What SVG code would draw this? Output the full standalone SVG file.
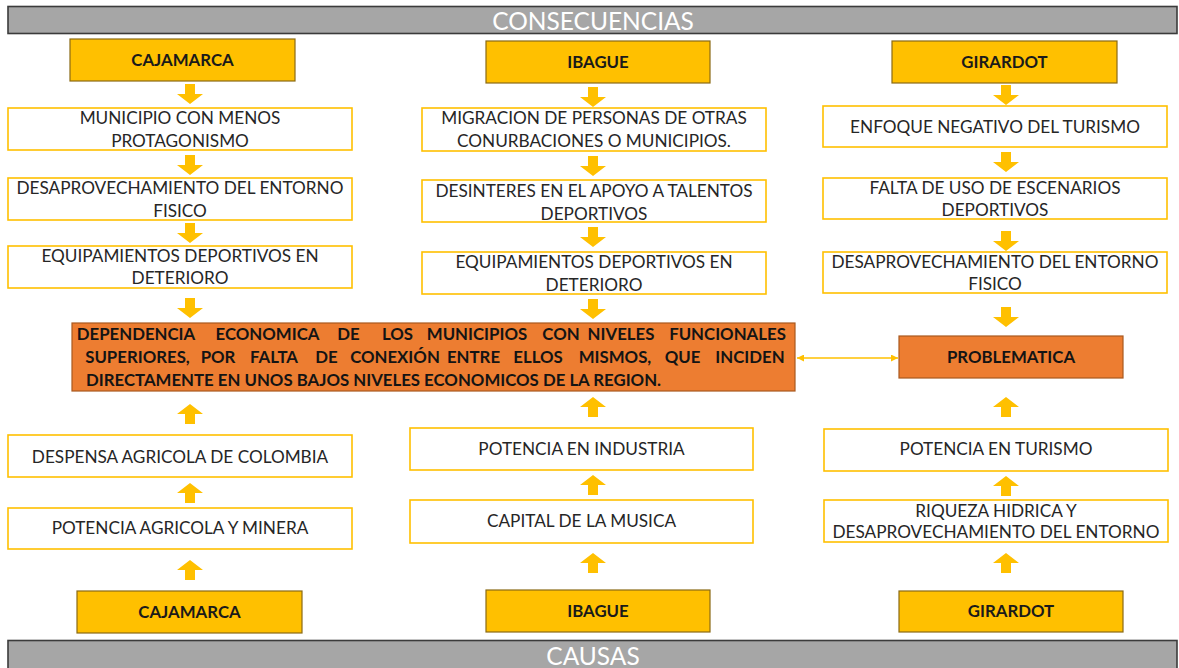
<svg xmlns="http://www.w3.org/2000/svg" xmlns:xlink="http://www.w3.org/1999/xlink" width="1179" height="668" viewBox="0 0 1179 668">
<style>
.bar{fill:#a6a6a6;stroke:#3b3b3b;stroke-width:1.6}
.bartxt{font-family:Lato,"Liberation Sans",sans-serif;font-size:24.5px;fill:#ffffff;text-anchor:middle}
.city{fill:#ffc000;stroke:#8a6a14;stroke-width:1.2}
.citytxt{font-family:Lato,"Liberation Sans",sans-serif;font-weight:bold;font-size:16.8px;fill:#1a1a1a;text-anchor:middle}
.box{fill:#ffffff;stroke:#ffc000;stroke-width:1.6}
.txt{font-family:Lato,"Liberation Sans",sans-serif;font-size:17.2px;fill:#262626;text-anchor:middle}
.orange{fill:#ed7d31;stroke:#a9591f;stroke-width:1.2}
.otxt{font-family:Lato,"Liberation Sans",sans-serif;font-weight:bold;font-size:16.8px;fill:#141414;text-anchor:middle}
.arr{fill:#ffc000}
.link{stroke:#ffc000;stroke-width:1.3;fill:none}
</style>
<defs>
<path id="down" d="M-5,0 H5 V10 H13 L0,20 L-13,10 H-5 Z"/>
<path id="up" d="M-5,20 H5 V10 H13 L0,0 L-13,10 H-5 Z"/>
<marker id="ah" viewBox="0 0 10 10" refX="10" refY="5" markerWidth="7" markerHeight="7" orient="auto-start-reverse" markerUnits="userSpaceOnUse">
<path d="M0,0 L10,5 L0,10 Z" fill="#ffc000"/>
</marker>
</defs>
<rect width="1179" height="668" fill="#ffffff"/>

<g id="consecuencias">
<rect class="bar" x="8" y="6.5" width="1169" height="27"/>
<text class="bartxt" x="593" y="30">CONSECUENCIAS</text>
</g>
<g id="causas">
<rect class="bar" x="8" y="640.5" width="1169" height="40"/>
<text class="bartxt" x="593" y="665">CAUSAS</text>
</g>

<g id="connectors">
<use href="#down" xlink:href="#down" class="arr" x="190" y="84"/>
<use href="#down" xlink:href="#down" class="arr" x="190" y="155"/>
<use href="#down" xlink:href="#down" class="arr" x="190" y="223"/>
<use href="#down" xlink:href="#down" class="arr" x="190" y="298"/>
<use href="#up" xlink:href="#up" class="arr" x="190" y="404"/>
<use href="#up" xlink:href="#up" class="arr" x="190" y="483"/>
<use href="#up" xlink:href="#up" class="arr" x="190" y="560"/>

<use href="#down" xlink:href="#down" class="arr" x="593" y="87"/>
<use href="#down" xlink:href="#down" class="arr" x="593" y="156"/>
<use href="#down" xlink:href="#down" class="arr" x="593" y="227"/>
<use href="#down" xlink:href="#down" class="arr" x="593" y="299"/>
<use href="#up" xlink:href="#up" class="arr" x="593" y="397"/>
<use href="#up" xlink:href="#up" class="arr" x="593" y="475"/>
<use href="#up" xlink:href="#up" class="arr" x="593" y="553"/>

<use href="#down" xlink:href="#down" class="arr" x="1006" y="85"/>
<use href="#down" xlink:href="#down" class="arr" x="1006" y="152"/>
<use href="#down" xlink:href="#down" class="arr" x="1006" y="231"/>
<use href="#down" xlink:href="#down" class="arr" x="1006" y="307"/>
<use href="#up" xlink:href="#up" class="arr" x="1006" y="397"/>
<use href="#up" xlink:href="#up" class="arr" x="1006" y="476"/>
<use href="#up" xlink:href="#up" class="arr" x="1006" y="553"/>

<line class="link" x1="797" y1="358" x2="898" y2="358" marker-start="url(#ah)" marker-end="url(#ah)"/>
</g>

<!-- Left column -->
<g id="cajamarca-top">
<rect class="city" x="70" y="39" width="225" height="42"/>
<text class="citytxt" x="182.5" y="66">CAJAMARCA</text>
</g>
<g id="l1">
<rect class="box" x="8" y="108" width="344" height="42"/>
<text class="txt" x="180" y="124">MUNICIPIO CON MENOS</text>
<text class="txt" x="180" y="147">PROTAGONISMO</text>
</g>
<g id="l2">
<rect class="box" x="8" y="178" width="344" height="42"/>
<text class="txt" x="180" y="194">DESAPROVECHAMIENTO DEL ENTORNO</text>
<text class="txt" x="180" y="217">FISICO</text>
</g>
<g id="l3">
<rect class="box" x="8" y="246" width="344" height="42"/>
<text class="txt" x="180" y="262">EQUIPAMIENTOS DEPORTIVOS EN</text>
<text class="txt" x="180" y="284">DETERIORO</text>
</g>
<g id="l4">
<rect class="box" x="8" y="435" width="344" height="42"/>
<text class="txt" x="180" y="463">DESPENSA AGRICOLA DE COLOMBIA</text>
</g>
<g id="l5">
<rect class="box" x="8" y="508" width="344" height="41"/>
<text class="txt" x="180" y="534">POTENCIA AGRICOLA Y MINERA</text>
</g>
<g id="cajamarca-bottom">
<rect class="city" x="77" y="591" width="225" height="42"/>
<text class="citytxt" x="189.5" y="618">CAJAMARCA</text>
</g>

<!-- Middle column -->
<g id="ibague-top">
<rect class="city" x="486" y="41" width="224" height="42"/>
<text class="citytxt" x="598" y="68">IBAGUE</text>
</g>
<g id="m1">
<rect class="box" x="422" y="108" width="344" height="43"/>
<text class="txt" x="594" y="124">MIGRACION DE PERSONAS DE OTRAS</text>
<text class="txt" x="594" y="147">CONURBACIONES O MUNICIPIOS.</text>
</g>
<g id="m2">
<rect class="box" x="422" y="180" width="344" height="42"/>
<text class="txt" x="594" y="197">DESINTERES EN EL APOYO A TALENTOS</text>
<text class="txt" x="594" y="220">DEPORTIVOS</text>
</g>
<g id="m3">
<rect class="box" x="422" y="252" width="344" height="42"/>
<text class="txt" x="594" y="268">EQUIPAMIENTOS DEPORTIVOS EN</text>
<text class="txt" x="594" y="291">DETERIORO</text>
</g>
<g id="m4">
<rect class="box" x="410" y="428" width="343" height="42"/>
<text class="txt" x="581.5" y="455">POTENCIA EN INDUSTRIA</text>
</g>
<g id="m5">
<rect class="box" x="410" y="500" width="343" height="43"/>
<text class="txt" x="581.5" y="527">CAPITAL DE LA MUSICA</text>
</g>
<g id="ibague-bottom">
<rect class="city" x="486" y="590" width="224" height="42"/>
<text class="citytxt" x="598" y="617">IBAGUE</text>
</g>

<!-- Right column -->
<g id="girardot-top">
<rect class="city" x="892" y="41" width="225" height="42"/>
<text class="citytxt" x="1004.5" y="68">GIRARDOT</text>
</g>
<g id="r1">
<rect class="box" x="823" y="106" width="344" height="41"/>
<text class="txt" x="995" y="133">ENFOQUE NEGATIVO DEL TURISMO</text>
</g>
<g id="r2">
<rect class="box" x="823" y="178" width="344" height="41"/>
<text class="txt" x="995" y="194">FALTA DE USO DE ESCENARIOS</text>
<text class="txt" x="995" y="216">DEPORTIVOS</text>
</g>
<g id="r3">
<rect class="box" x="823" y="252" width="344" height="41"/>
<text class="txt" x="995" y="268">DESAPROVECHAMIENTO DEL ENTORNO</text>
<text class="txt" x="995" y="290">FISICO</text>
</g>
<g id="problematica">
<rect class="orange" x="899" y="336" width="224" height="42"/>
<text class="otxt" x="1011" y="363">PROBLEMATICA</text>
</g>
<g id="r4">
<rect class="box" x="824" y="429" width="344" height="42"/>
<text class="txt" x="996" y="455">POTENCIA EN TURISMO</text>
</g>
<g id="r5">
<rect class="box" x="824" y="500" width="344" height="42"/>
<text class="txt" x="996" y="517">RIQUEZA HIDRICA Y</text>
<text class="txt" x="996" y="538">DESAPROVECHAMIENTO DEL ENTORNO</text>
</g>
<g id="girardot-bottom">
<rect class="city" x="899" y="591" width="224" height="41"/>
<text class="citytxt" x="1011" y="617">GIRARDOT</text>
</g>

<!-- Central problem -->
<g id="dependencia">
<rect class="orange" x="72" y="323" width="723" height="68"/>
<text class="otxt" y="340">
<tspan x="136">DEPENDENCIA</tspan><tspan x="267.5">ECONOMICA</tspan><tspan x="348.5">DE</tspan><tspan x="397.5">LOS</tspan><tspan x="477">MUNICIPIOS</tspan><tspan x="561">CON</tspan><tspan x="621">NIVELES</tspan><tspan x="727.5">FUNCIONALES</tspan>
</text>
<text class="otxt" y="363">
<tspan x="137.5">SUPERIORES,</tspan><tspan x="218">POR</tspan><tspan x="274">FALTA</tspan><tspan x="326.5">DE</tspan><tspan x="395">CONEXIÓN</tspan><tspan x="473.5">ENTRE</tspan><tspan x="538">ELLOS</tspan><tspan x="615">MISMOS,</tspan><tspan x="682.5">QUE</tspan><tspan x="750">INCIDEN</tspan>
</text>
<text class="otxt" x="86" y="386" style="text-anchor:start">DIRECTAMENTE EN UNOS BAJOS NIVELES ECONOMICOS DE LA REGION.</text>
</g>
</svg>
